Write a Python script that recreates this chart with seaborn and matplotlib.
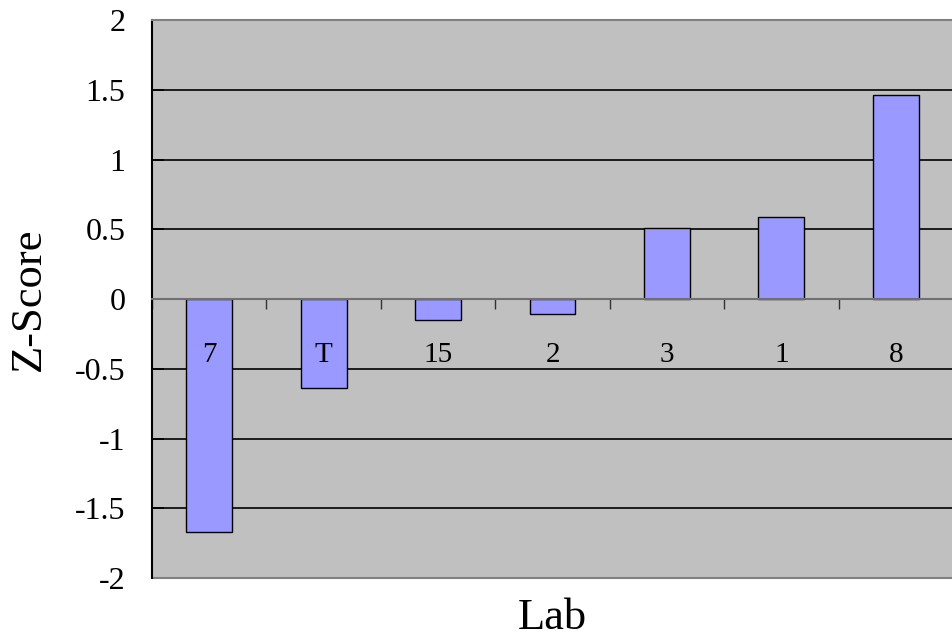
import seaborn as sns
import pandas as pd
import numpy as np
import matplotlib.pyplot as plt

# данные
labs = ['7', 'T', '15', '2', '3', '1', '8']
z_scores = [-1.67, -0.64, -0.15, -0.11, 0.51, 0.59, 1.46]
y_ticks = [-2, -1.5, -1, -0.5, 0, 0.5, 1, 1.5, 2]
y_tick_labels = ['-2', '-1.5', '-1', '-0.5', '0', '0.5', '1', '1.5', '2']

data = pd.DataFrame({'Lab': labs, 'Z': z_scores})

sns.set_style('white')
plt.rcParams['font.family'] = ['Liberation Serif', 'DejaVu Serif']
plt.rcParams['text.color'] = 'black'
plt.rcParams['axes.labelcolor'] = 'black'
plt.rcParams['ytick.labelcolor'] = 'black'

fig = plt.figure(figsize=(9.53, 6.37), dpi=100)
ax = fig.add_axes([0.1595, 0.0926, 0.8405, 0.876])
ax.set_facecolor('#C0C0C0')

sns.barplot(data=data, x='Lab', y='Z', order=labs, color='#9999FF', saturation=1,
            width=0.4, edgecolor='black', linewidth=1, ax=ax)

# подписи категорий внутри графика
for i, lab in enumerate(labs):
    ax.text(i, -0.4, lab, ha='center', va='center', fontsize=21, color='black')

ax.set_ylim(-2, 2)
ax.set_xlim(-0.5, len(labs) - 0.5)
ax.set_yticks(y_ticks)
ax.set_yticklabels(y_tick_labels, fontsize=23, color='black')
ax.set_xticks(np.arange(len(labs) + 1) - 0.5)
ax.set_xticklabels([])

ax.set_axisbelow(True)
ax.yaxis.grid(True, color='black', linewidth=1.2)
ax.xaxis.grid(False)

ax.tick_params(axis='y', direction='in', length=8.5, width=1.2, color='black', pad=19, left=True)
ax.tick_params(axis='x', direction='out', length=7, width=1, color='#333333', bottom=True)

ax.spines['bottom'].set_position(('data', 0))
ax.spines['bottom'].set_color('#707070')
ax.spines['bottom'].set_linewidth(1.5)
ax.spines['bottom'].set_zorder(3)
ax.spines['left'].set_color('black')
ax.spines['left'].set_linewidth(1.5)
ax.spines['top'].set_color('#808080')
ax.spines['top'].set_linewidth(1.5)
ax.spines['right'].set_visible(False)
ax.axhline(-2, color='#808080', linewidth=1.5, clip_on=False)

ax.set_xlabel('Lab', fontsize=32, color='black')
ax.xaxis.set_label_coords(0.5, -0.035)
ax.set_ylabel('Z-Score', fontsize=32, color='black')
ax.yaxis.set_label_coords(-0.129, 0.5)

plt.savefig('out.png', dpi=100)
